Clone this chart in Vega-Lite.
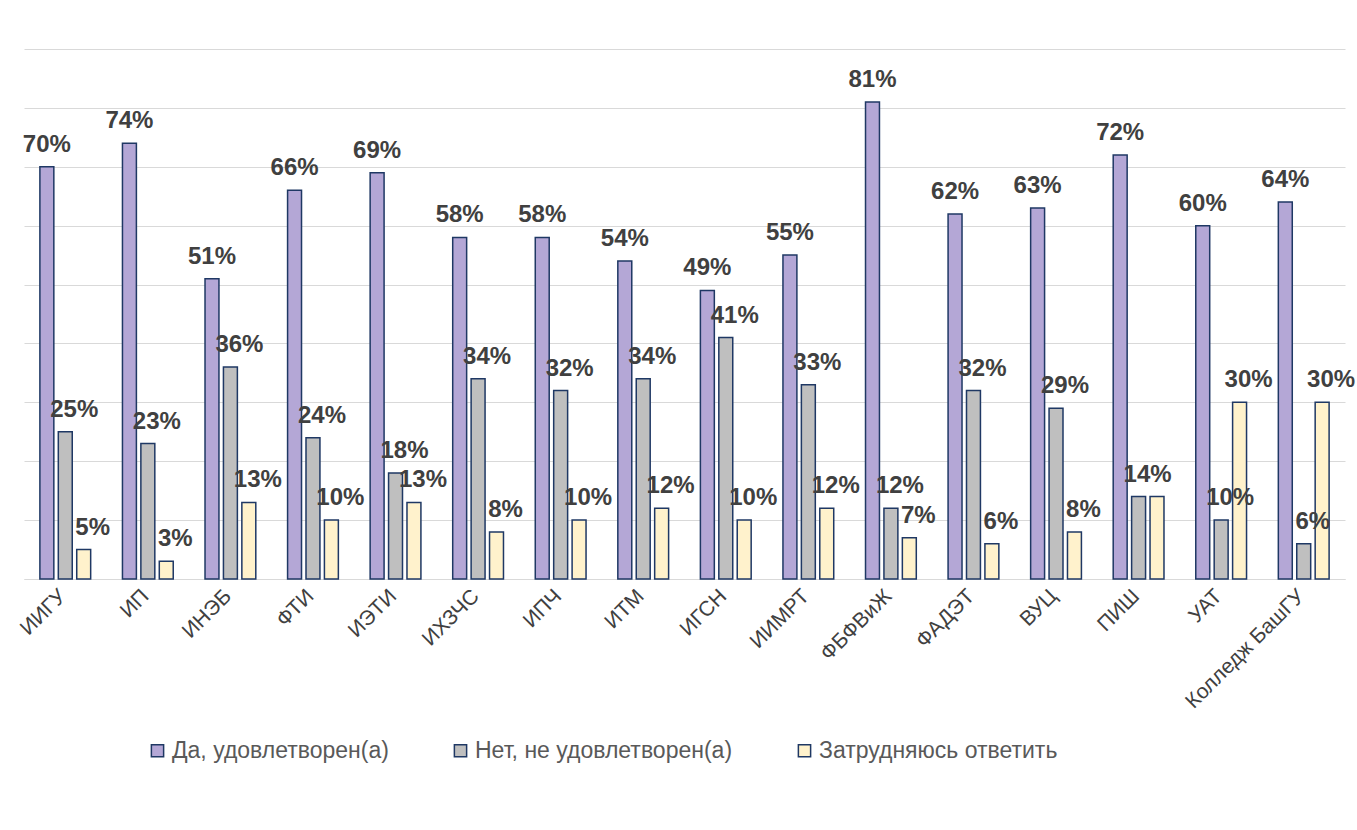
{
  "$schema": "https://vega.github.io/schema/vega-lite/v6.json",
  "width": 1321,
  "height": 530,
  "autosize": {"type": "none"},
  "padding": {"left": 24, "top": 49, "right": 12, "bottom": 251},
  "background": "white",
  "config": {"view": {"stroke": null}, "font": "Liberation Sans"},
  "data": {
    "values": [
      {"inst": "ИИГУ", "series": "Да, удовлетворен(а)", "value": 0.70},
      {"inst": "ИИГУ", "series": "Нет, не удовлетворен(а)", "value": 0.25},
      {"inst": "ИИГУ", "series": "Затрудняюсь ответить", "value": 0.05},
      {"inst": "ИП", "series": "Да, удовлетворен(а)", "value": 0.74},
      {"inst": "ИП", "series": "Нет, не удовлетворен(а)", "value": 0.23},
      {"inst": "ИП", "series": "Затрудняюсь ответить", "value": 0.03},
      {"inst": "ИНЭБ", "series": "Да, удовлетворен(а)", "value": 0.51},
      {"inst": "ИНЭБ", "series": "Нет, не удовлетворен(а)", "value": 0.36},
      {"inst": "ИНЭБ", "series": "Затрудняюсь ответить", "value": 0.13},
      {"inst": "ФТИ", "series": "Да, удовлетворен(а)", "value": 0.66},
      {"inst": "ФТИ", "series": "Нет, не удовлетворен(а)", "value": 0.24},
      {"inst": "ФТИ", "series": "Затрудняюсь ответить", "value": 0.10},
      {"inst": "ИЭТИ", "series": "Да, удовлетворен(а)", "value": 0.69},
      {"inst": "ИЭТИ", "series": "Нет, не удовлетворен(а)", "value": 0.18},
      {"inst": "ИЭТИ", "series": "Затрудняюсь ответить", "value": 0.13},
      {"inst": "ИХЗЧС", "series": "Да, удовлетворен(а)", "value": 0.58},
      {"inst": "ИХЗЧС", "series": "Нет, не удовлетворен(а)", "value": 0.34},
      {"inst": "ИХЗЧС", "series": "Затрудняюсь ответить", "value": 0.08},
      {"inst": "ИПЧ", "series": "Да, удовлетворен(а)", "value": 0.58},
      {"inst": "ИПЧ", "series": "Нет, не удовлетворен(а)", "value": 0.32},
      {"inst": "ИПЧ", "series": "Затрудняюсь ответить", "value": 0.10},
      {"inst": "ИТМ", "series": "Да, удовлетворен(а)", "value": 0.54},
      {"inst": "ИТМ", "series": "Нет, не удовлетворен(а)", "value": 0.34},
      {"inst": "ИТМ", "series": "Затрудняюсь ответить", "value": 0.12},
      {"inst": "ИГСН", "series": "Да, удовлетворен(а)", "value": 0.49},
      {"inst": "ИГСН", "series": "Нет, не удовлетворен(а)", "value": 0.41},
      {"inst": "ИГСН", "series": "Затрудняюсь ответить", "value": 0.10},
      {"inst": "ИИМРТ", "series": "Да, удовлетворен(а)", "value": 0.55},
      {"inst": "ИИМРТ", "series": "Нет, не удовлетворен(а)", "value": 0.33},
      {"inst": "ИИМРТ", "series": "Затрудняюсь ответить", "value": 0.12},
      {"inst": "ФБФВиЖ", "series": "Да, удовлетворен(а)", "value": 0.81},
      {"inst": "ФБФВиЖ", "series": "Нет, не удовлетворен(а)", "value": 0.12},
      {"inst": "ФБФВиЖ", "series": "Затрудняюсь ответить", "value": 0.07},
      {"inst": "ФАДЭТ", "series": "Да, удовлетворен(а)", "value": 0.62},
      {"inst": "ФАДЭТ", "series": "Нет, не удовлетворен(а)", "value": 0.32},
      {"inst": "ФАДЭТ", "series": "Затрудняюсь ответить", "value": 0.06},
      {"inst": "ВУЦ", "series": "Да, удовлетворен(а)", "value": 0.63},
      {"inst": "ВУЦ", "series": "Нет, не удовлетворен(а)", "value": 0.29},
      {"inst": "ВУЦ", "series": "Затрудняюсь ответить", "value": 0.08},
      {"inst": "ПИШ", "series": "Да, удовлетворен(а)", "value": 0.72},
      {"inst": "ПИШ", "series": "Нет, не удовлетворен(а)", "value": 0.14},
      {"inst": "ПИШ", "series": "Затрудняюсь ответить", "value": 0.14},
      {"inst": "УАТ", "series": "Да, удовлетворен(а)", "value": 0.60},
      {"inst": "УАТ", "series": "Нет, не удовлетворен(а)", "value": 0.10},
      {"inst": "УАТ", "series": "Затрудняюсь ответить", "value": 0.30},
      {"inst": "Колледж БашГУ", "series": "Да, удовлетворен(а)", "value": 0.64},
      {"inst": "Колледж БашГУ", "series": "Нет, не удовлетворен(а)", "value": 0.06},
      {"inst": "Колледж БашГУ", "series": "Затрудняюсь ответить", "value": 0.30}
    ]
  },
  "encoding": {
    "x": {
      "field": "inst", "type": "nominal", "sort": null,
      "scale": {"paddingInner": 0.385, "paddingOuter": 0.1925},
      "axis": {"title": null, "labelAngle": -45, "labelFontSize": 21, "labelColor": "#404040", "ticks": false, "domainColor": "#d9d9d9", "labelPadding": 6, "labelOffset": -10, "labelLimit": 300}
    },
    "xOffset": {
      "field": "series", "type": "nominal",
      "sort": ["Да, удовлетворен(а)", "Нет, не удовлетворен(а)", "Затрудняюсь ответить"],
      "scale": {"paddingInner": 0.243, "paddingOuter": 0}
    },
    "y": {
      "field": "value", "type": "quantitative",
      "scale": {"domain": [0, 0.9], "nice": false},
      "axis": {"title": null, "labels": false, "ticks": false, "domain": false, "grid": true, "gridColor": "#d9d9d9", "values": [0, 0.1, 0.2, 0.3, 0.4, 0.5, 0.6, 0.7, 0.8, 0.9]}
    }
  },
  "layer": [
    {
      "mark": {"type": "bar", "stroke": "#1f3864", "strokeWidth": 1.5},
      "encoding": {
        "color": {
          "field": "series", "type": "nominal",
          "scale": {"domain": ["Да, удовлетворен(а)", "Нет, не удовлетворен(а)", "Затрудняюсь ответить"], "range": ["#b4a7d6", "#bfbfbf", "#fff2cc"]},
          "legend": {"title": null, "orient": "none", "legendX": 122, "legendY": 690, "direction": "horizontal", "symbolType": "square", "symbolSize": 150, "symbolStrokeColor": "#1f3864", "symbolStrokeWidth": 1.5, "labelFontSize": 23, "labelColor": "#595959", "columnPadding": 60, "labelOffset": 3, "labelLimit": 400}
        }
      }
    },
    {
      "transform": [{"filter": "datum.series == 'Да, удовлетворен(а)'"}],
      "mark": {"type": "text", "dy": -15, "baseline": "alphabetic", "fontSize": 24, "fontWeight": "bold", "color": "#404040"},
      "encoding": {"text": {"field": "value", "type": "quantitative", "format": ".0%"}}
    },
    {
      "transform": [{"filter": "datum.series != 'Да, удовлетворен(а)' && !(datum.inst == 'ПИШ' && datum.series == 'Затрудняюсь ответить')"}],
      "mark": {"type": "text", "dy": -15, "dx": 9, "baseline": "alphabetic", "fontSize": 24, "fontWeight": "bold", "color": "#404040"},
      "encoding": {"text": {"field": "value", "type": "quantitative", "format": ".0%"}}
    }
  ]
}
